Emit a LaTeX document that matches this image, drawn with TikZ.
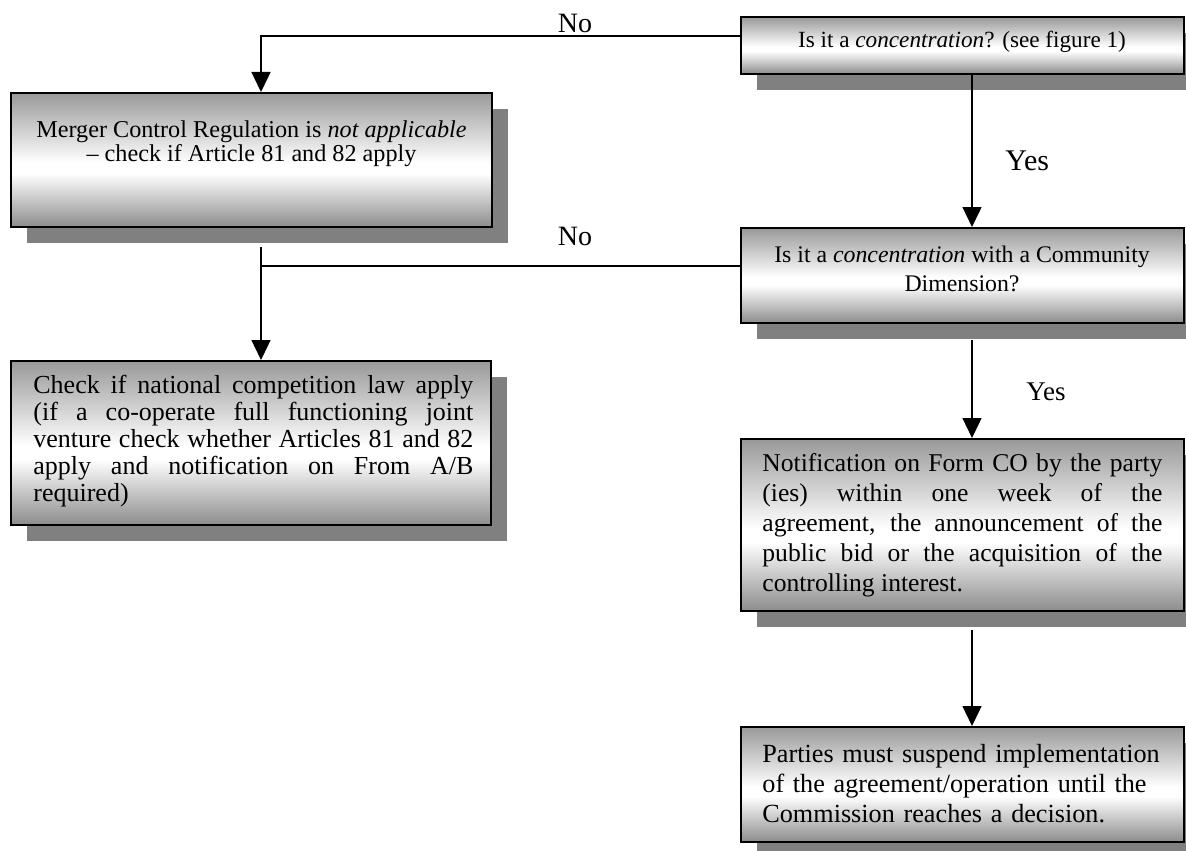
\documentclass[tikz,border=0pt]{standalone}
\usepackage{fontspec}
\setmainfont{Liberation Serif}
\usetikzlibrary{arrows.meta,shadows,calc}

\definecolor{shadetop}{gray}{0.60}
\definecolor{shadebot}{gray}{0.55}
\definecolor{shadowgray}{gray}{0.50}
% grey at the edges, white band a little below the middle
\pgfdeclareverticalshading{boxshade}{100bp}{color(0bp)=(shadebot); color(25bp)=(shadebot); color(45bp)=(white); color(49bp)=(white); color(75bp)=(shadetop); color(100bp)=(shadetop)}

\begin{document}
\begin{tikzpicture}[x=0.5pt,y=-0.5pt,
  panel/.style={rectangle, draw=black, line width=1pt, shade, shading=boxshade, inner sep=0pt,
    drop shadow={shadow xshift=8pt, shadow yshift=-8pt, fill=shadowgray, opacity=1}},
  body/.style={inner sep=0pt, text=black},
  link/.style={line width=0.7pt, draw=black},
  arrow/.style={link, -{Triangle[width=9.5pt,length=10pt]}},
  answer/.style={inner sep=0pt, anchor=base, text=black}]

\useasboundingbox (0,0) rectangle (1186,850);

% boxes
\node[panel, minimum width=221.5pt, minimum height=28.5pt] (c1) at (962.5,45.5) {};
\node[panel, minimum width=221.5pt, minimum height=47.5pt] (c2) at (962.5,275.5) {};
\node[panel, minimum width=240.5pt, minimum height=67pt] (m) at (251.5,160) {};
\node[panel, minimum width=240pt, minimum height=82pt] (n) at (251,443) {};
\node[panel, minimum width=221.5pt, minimum height=86pt] (notif) at (962.5,525) {};
\node[panel, minimum width=221.5pt, minimum height=57.5pt] (parties) at (962.5,784.5) {};

% box texts (centred blocks are placed by the baseline of their last line)
\node[body, anchor=base, font=\fontsize{11.6}{14}\selectfont] (c1t) at (962,48)
  {Is it a \textit{concentration}? (see figure 1)};
\node[body, anchor=base, align=center, font=\fontsize{11.9}{14.5}\selectfont] (c2t) at (962,291)
  {Is it a \textit{concentration} with a Community\\Dimension?};
\node[body, anchor=base, align=center, font=\fontsize{12.1}{12}\selectfont] (mt) at (251.5,162)
  {Merger Control Regulation is \textit{not applicable}\\\mbox{– check if Article 81 and 82 apply}};
\node[body, anchor=base west, text width=220pt, align=justify, font=\fontsize{13}{13.5}\selectfont] (nt) at (33,393)
  {\hyphenpenalty=10000 Check if national competition law apply\linebreak
   (if a co-operate full functioning joint\linebreak
   venture check whether Articles 81 and 82\linebreak
   apply and notification on From A/B\linebreak
   required)};
\node[body, anchor=base west, text width=200pt, align=justify, font=\fontsize{12.8}{15}\selectfont] (notift) at (762,471)
  {\hyphenpenalty=10000 Notification on Form CO by the party\linebreak
   (ies) within one week of the\linebreak
   agreement, the announcement of the\linebreak
   public bid or the acquisition of the\linebreak
   controlling interest.};
\node[body, anchor=base west, text width=200pt, align=left, font=\fontsize{13.1}{15}\selectfont] (partiest) at (762,762)
  {Parties must suspend implementation\\
   of the agreement/operation until the\\
   Commission reaches a decision.};

% connectors
\coordinate (jl) at (261,36);
\coordinate (jm) at (261,266);
\coordinate (jmtop) at (261,247);
\coordinate (ax) at (972,0);

\draw[arrow] (c1.west |- jl) -- (jl) -- (m.north -| jl);
\draw[link] (c2.west |- jm) -- (jm);
\draw[arrow] (jmtop) -- (n.north -| jmtop);
\draw[arrow] (c1.south -| ax) -- (c2.north -| ax);
\draw[arrow] ($(c2.south -| ax)+(0,16)$) -- (notif.north -| ax);
\draw[arrow] ($(notif.south -| ax)+(0,18)$) -- (parties.north -| ax);

% answers
\node[answer, font=\fontsize{14}{14}\selectfont] (no1) at (575,33) {No};
\node[answer, font=\fontsize{14}{14}\selectfont] (no2) at (575,245) {No};
\node[answer, anchor=base west, font=\fontsize{15}{15}\selectfont] (yes1) at (1005,170) {Yes};
\node[answer, anchor=base west, font=\fontsize{13.5}{13.5}\selectfont] (yes2) at (1026,400) {Yes};
\end{tikzpicture}
\end{document}
